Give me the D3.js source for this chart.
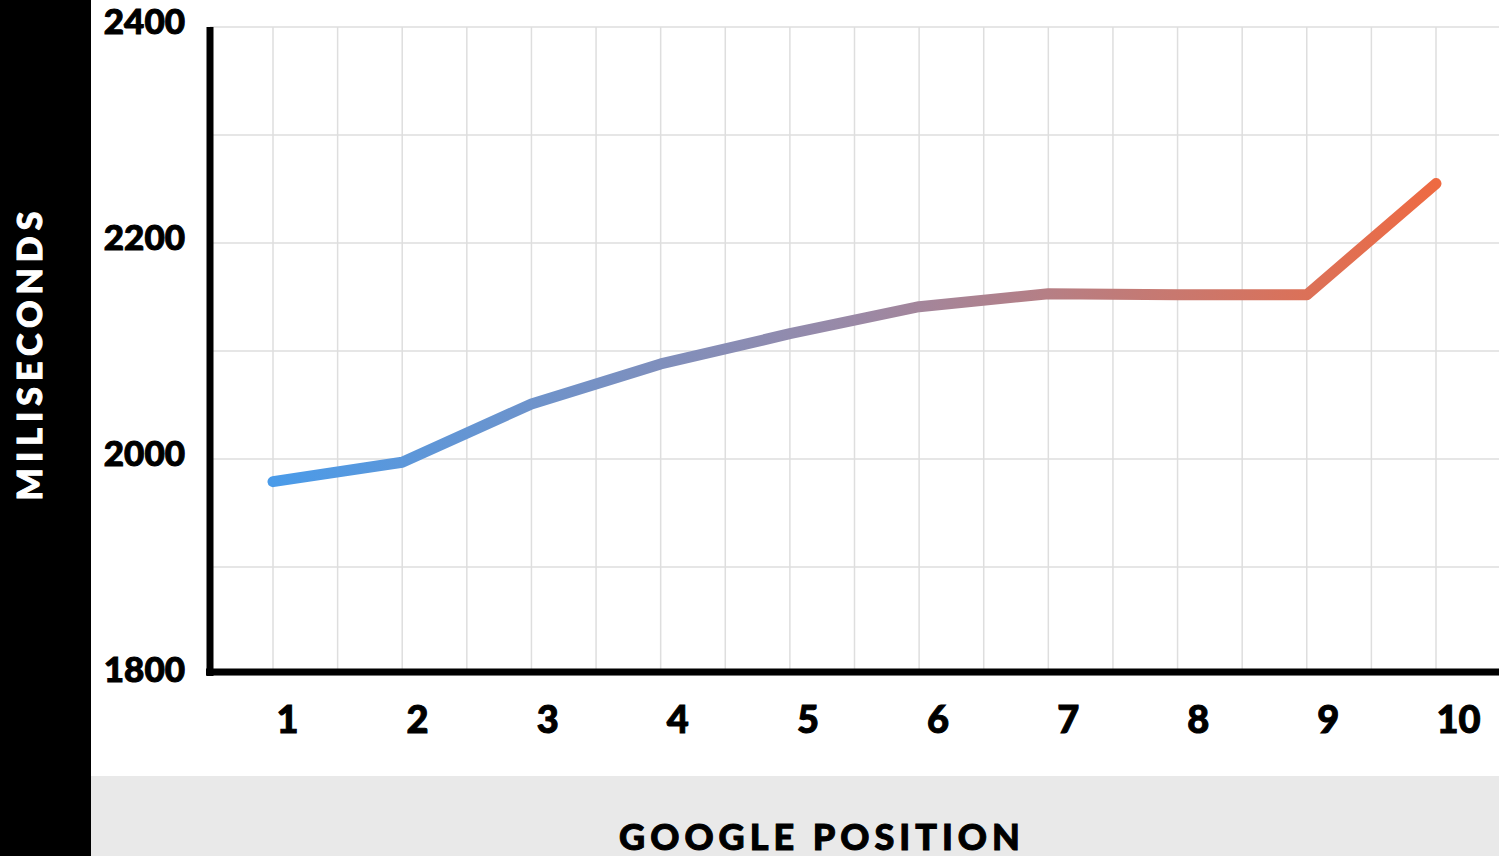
<!DOCTYPE html>
<html>
<head>
<meta charset="utf-8">
<script src="https://cdn.jsdelivr.net/npm/d3@7"></script>
<style>
  html, body { margin: 0; padding: 0; background: #fff; }
  svg { display: block; }
  text { font-family: Lato, "Open Sans", sans-serif; font-weight: 900; }
</style>
</head>
<body>
<svg id="chart" width="1499" height="856"></svg>
<script>
// Load time by Google ranking position
const positions = [1, 2, 3, 4, 5, 6, 7, 8, 9, 10];
const loadTimes = [1979, 1997, 2051, 2088, 2116, 2141, 2153, 2152, 2152, 2255];
const yTicks = [1800, 2000, 2200, 2400];
const yGridTicks = [1800, 1900, 2000, 2100, 2200, 2300, 2400];
const xTitle = "GOOGLE POSITION";
const yTitle = "MILISECONDS";

const W = 1499, H = 856;
const svg = d3.select("#chart");

// side and bottom bands
svg.append("rect").attr("x", 0).attr("y", 0).attr("width", 91).attr("height", H).attr("fill", "#000");
svg.append("rect").attr("x", 91).attr("y", 776).attr("width", W - 91).attr("height", H - 776).attr("fill", "#e9e9e9");

const x = d3.scaleLinear().domain([1, 10]).range([273, 1436]);
const y = d3.scaleLinear().domain([1800, 2400]).range([675, 27]);
// tick labels sit slightly to the right of their grid lines
const xLabel = d3.scaleLinear().domain([1, 10]).range([287, 1458]);

// grid: half-step vertical lines, 100 ms horizontal lines
const vGrid = d3.range(1, 10.01, 0.5);
svg.append("g").selectAll("line").data(vGrid).join("line")
  .attr("x1", d => x(d)).attr("x2", d => x(d))
  .attr("y1", y(2400)).attr("y2", y(1800))
  .attr("stroke", "#dedede").attr("stroke-width", 1.5);
svg.append("g").selectAll("line").data(yGridTicks).join("line")
  .attr("x1", 210).attr("x2", W)
  .attr("y1", d => y(d)).attr("y2", d => y(d))
  .attr("stroke", "#dedede").attr("stroke-width", 1.5);

// y axis labels
const yAxis = d3.axisLeft(y).tickValues(yTicks).tickSize(0).tickPadding(0).tickFormat(d3.format("d"));
const gy = svg.append("g").attr("transform", "translate(185,0)").call(yAxis);
gy.select(".domain").remove();
gy.selectAll("text").attr("font-size", 35).attr("fill", "#000").attr("dy", "0.32em")
  .attr("stroke", "#000").attr("stroke-width", 1)
  .attr("transform", "translate(0,-5)")
  .style("font-family", "Lato, sans-serif").style("font-weight", 900);

// x axis labels
const xAxis = d3.axisBottom(xLabel).tickValues(positions).tickSize(0).tickPadding(0).tickFormat(d3.format("d"));
const gx = svg.append("g").attr("transform", "translate(0,706)").call(xAxis);
gx.select(".domain").remove();
gx.selectAll("text").attr("font-size", 38).attr("fill", "#000").attr("dy", "0.71em")
  .attr("stroke", "#000").attr("stroke-width", 1)
  .style("font-family", "Lato, sans-serif").style("font-weight", 900);

// axis lines
svg.append("line").attr("x1", 210).attr("x2", 210).attr("y1", y(2400)).attr("y2", 676)
  .attr("stroke", "#000").attr("stroke-width", 7);
svg.append("line").attr("x1", 206).attr("x2", W).attr("y1", 672).attr("y2", 672)
  .attr("stroke", "#000").attr("stroke-width", 7);

// blue-to-orange gradient along the line
const defs = svg.append("defs");
const grad = defs.append("linearGradient").attr("id", "lineGrad")
  .attr("gradientUnits", "userSpaceOnUse")
  .attr("x1", x(1)).attr("x2", x(10)).attr("y1", 0).attr("y2", 0);
grad.append("stop").attr("offset", "0%").attr("stop-color", "#4a9be9");
grad.append("stop").attr("offset", "50%").attr("stop-color", "#9a89a6");
grad.append("stop").attr("offset", "100%").attr("stop-color", "#ee6a42");

const line = d3.line().x((d, i) => x(positions[i])).y(d => y(d));
svg.append("path").datum(loadTimes)
  .attr("d", line)
  .attr("fill", "none")
  .attr("stroke", "url(#lineGrad)")
  .attr("stroke-width", 11)
  .attr("stroke-linecap", "round")
  .attr("stroke-linejoin", "round");

// axis titles
svg.append("text").attr("x", 822).attr("y", 850)
  .attr("text-anchor", "middle").attr("font-size", 36).attr("letter-spacing", 5)
  .attr("stroke", "#000").attr("stroke-width", 1)
  .attr("fill", "#000").text(xTitle);
svg.append("text").attr("transform", "translate(42,353) rotate(-90)")
  .attr("text-anchor", "middle").attr("font-size", 34).attr("letter-spacing", 6)
  .attr("stroke", "#fff").attr("stroke-width", 1)
  .attr("fill", "#fff").text(yTitle);
</script>
</body>
</html>
